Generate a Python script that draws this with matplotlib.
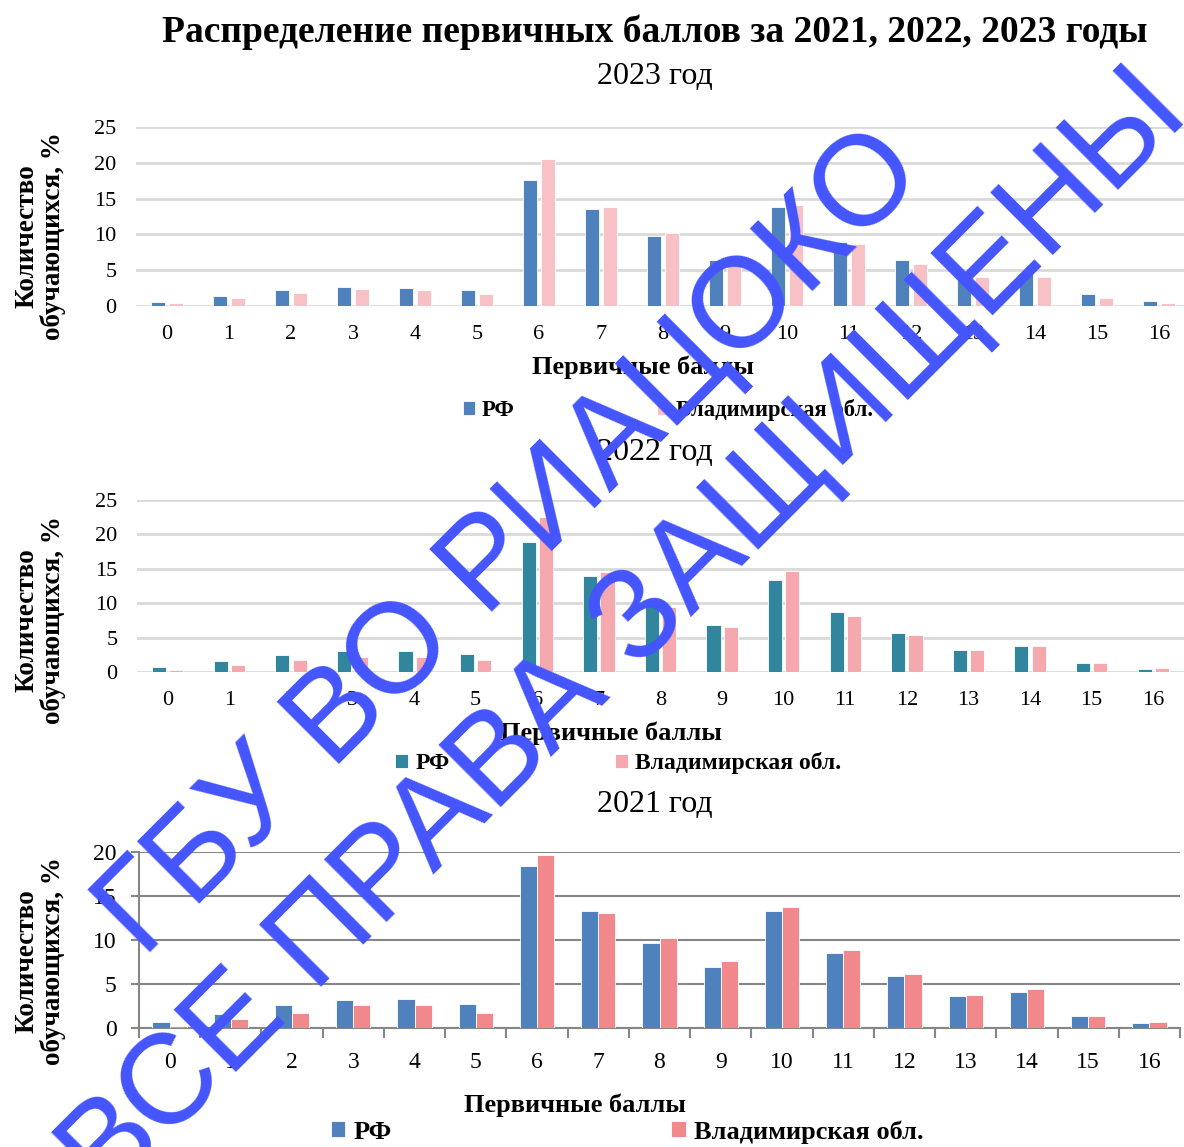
import numpy as np
import matplotlib.pyplot as plt

plt.rcParams['font.family'] = ['Liberation Serif', 'DejaVu Serif']

W, H = 1184, 1147

scores = list(range(17))

rf_2023 = [0.56, 1.35, 2.19, 2.70, 2.56, 2.19, 17.55, 13.59, 9.78, 6.4,
           13.8, 8.9, 6.36, 4.5, 4.56, 1.72, 0.65]
vo_2023 = [0.47, 1.12, 1.77, 2.33, 2.23, 1.68, 20.58, 13.87, 10.24, 6.3,
           14.07, 8.64, 5.84, 4.0, 4.05, 1.16, 0.47]

rf_2022 = [0.68, 1.55, 2.47, 3.0, 3.0, 2.57, 18.85, 13.95, 9.88, 6.83,
           13.37, 8.67, 5.62, 3.25, 3.78, 1.26, 0.44]
vo_2022 = [0.34, 1.02, 1.74, 2.23, 2.13, 1.74, 22.5, 14.53, 9.5, 6.54,
           14.73, 8.14, 5.38, 3.15, 3.78, 1.26, 0.53]

rf_2021 = [0.68, 1.58, 2.6, 3.17, 3.28, 2.72, 18.38, 13.28, 9.66, 6.94,
           13.28, 8.57, 5.92, 3.58, 4.08, 1.40, 0.6]
vo_2021 = [0.26, 0.98, 1.7, 2.6, 2.6, 1.7, 19.7, 13.09, 10.26, 7.58,
           13.77, 8.87, 6.15, 3.77, 4.45, 1.40, 0.68]

series_names = ['РФ', 'Владимирская обл.']
title = 'Распределение первичных баллов за 2021, 2022, 2023 годы'
xlabel = 'Первичные баллы'
ylabel = 'Количество\nобучающихся, %'


def fx(px):
    return px / W


def fy(py):
    return 1 - py / H


def panel_axes(left, right, top, bottom):
    return fig.add_axes([fx(left), fy(bottom), fx(right - left), (bottom - top) / H])


fig = plt.figure(figsize=(W / 100, H / 100), dpi=100)

fig.text(fx(655), fy(32), title, ha='center', va='center',
         fontsize=27, fontweight='bold')

x = np.arange(len(scores))

# year, rf, vo, colours, box, ymax, style, title y, xlabel pos, ylabel y, legend pos, legend size, colspacing
panels = [
    ('2023 год', rf_2023, vo_2023, ('#4F81BD', '#F8C1C6'),
     (136, 1190, 127, 306), 25, 'light', 77, (643, 367), 236, (668, 410), 16.3, 6.3),
    ('2022 год', rf_2022, vo_2022, ('#31859C', '#F5A9AE'),
     (137, 1184, 500, 672), 25, 'light', 453, (611, 733), 620, (618, 763), 17, 7.0),
    ('2021 год', rf_2021, vo_2021, ('#4F81BD', '#F0888C'),
     (139, 1180, 852, 1028), 20, 'dark', 805, (575, 1105), 961, (627, 1132), 19, 10.6),
]

for (year, rf, vo, cols, box, ymax, style, ty, xl, yly, lg, lgfs, csp) in panels:
    ax = panel_axes(*box)
    if style == 'light':
        w, off = 0.23, 0.14
        b1 = ax.bar(x - off, rf, w, color=cols[0], edgecolor='white', linewidth=0.6, zorder=3)
        b2 = ax.bar(x + off, vo, w, color=cols[1], edgecolor='white', linewidth=0.6, zorder=3)
        for s in ax.spines.values():
            s.set_visible(False)
        ax.grid(axis='y', color='#D9D9D9', linewidth=2, zorder=0)
        ax.tick_params(length=0, labelsize=16, pad=14)
    else:
        w, off = 0.28, 0.14
        b1 = ax.bar(x - off, rf, w, color=cols[0], edgecolor='white', linewidth=0.6, zorder=3)
        b2 = ax.bar(x + off, vo, w, color=cols[1], edgecolor='white', linewidth=0.6, zorder=3)
        for k in ['top', 'right']:
            ax.spines[k].set_visible(False)
        for k in ['left', 'bottom']:
            ax.spines[k].set_color('#868686')
            ax.spines[k].set_linewidth(1.5)
        ax.grid(axis='y', color='#868686', linewidth=1.5, zorder=0)
        ax.tick_params(axis='y', length=6, color='#868686', width=1.5, labelsize=17, pad=10)
        ax.tick_params(axis='x', which='major', length=0, labelsize=17, pad=17)
        ax.set_xticks(np.arange(-0.5, len(scores), 1), minor=True)
        ax.tick_params(axis='x', which='minor', length=7, color='#868686', width=1.5)
    ax.set_axisbelow(True)
    ax.set_xlim(-0.5, len(scores) - 0.5)
    ax.set_ylim(0, ymax)
    ax.set_yticks(range(0, ymax + 1, 5))
    ax.set_xticks(x)
    ax.set_xticklabels([str(s) for s in scores])

    fig.text(fx(655), fy(ty), year, ha='center', va='center', fontsize=23)
    fig.text(fx(xl[0]), fy(xl[1]), xlabel, ha='center', va='center',
             fontsize=19, fontweight='bold')
    fig.text(fx(40), fy(yly), ylabel, ha='center', va='center',
             rotation=90, fontsize=19.5, fontweight='bold', linespacing=1.0)
    fig.legend([b1, b2], series_names, loc='center',
               bbox_to_anchor=(fx(lg[0]), fy(lg[1])), ncol=2, frameon=False,
               prop={'weight': 'bold', 'size': lgfs}, handlelength=0.55,
               handleheight=0.55, handletextpad=0.3, columnspacing=csp)

# watermark
wm = dict(ha='center', va='center', rotation=45, rotation_mode='anchor',
          fontsize=92, color='#4455FF', family='Liberation Sans', zorder=10)
fig.text(fx(512), fy(544), 'ГБУ ВО РИАЦОКО', **wm)
fig.text(fx(626), fy(636), 'ВСЕ ПРАВА ЗАЩИЩЕНЫ', **wm)

fig.savefig('out.png', dpi=100)
